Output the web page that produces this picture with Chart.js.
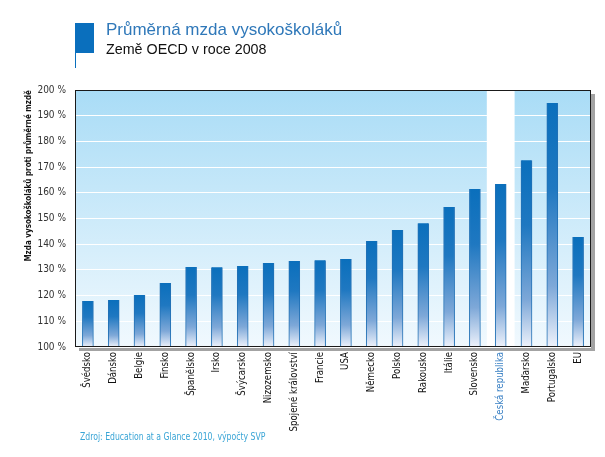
<!DOCTYPE html>
<html>
<head>
<meta charset="utf-8">
<script src="https://cdn.jsdelivr.net/npm/chart.js@4"></script>
<style>
  body { margin: 0; background: #fff; }
  #wrap { position: relative; width: 605px; height: 457px; }
  #graf { position: absolute; left: 0; top: 0; }
  .nadpis { position: absolute; left: 106px; top: 20px; font: 17px "Liberation Sans", Arial, sans-serif; color: #2f78b9; white-space: nowrap; }
  .podnadpis { position: absolute; left: 106px; top: 41px; font: 14.3px "Liberation Sans", Arial, sans-serif; color: #111; white-space: nowrap; }
  .znacka { position: absolute; left: 75px; top: 23px; width: 19px; height: 30px; background: #0a6fbd; }
  .linka { position: absolute; left: 75px; top: 53px; width: 1px; height: 15px; background: #0a6fbd; }
  .zdroj { position: absolute; left: 80px; top: 431px; font: 10px "Liberation Sans Narrow", "DejaVu Sans Condensed", sans-serif; color: #3aa5d6; white-space: nowrap; transform: scaleX(0.86); transform-origin: left top; }
</style>
</head>
<body>
<div id="wrap">
  <canvas id="graf" width="605" height="457"></canvas>
  <div class="znacka"></div>
  <div class="linka"></div>
  <div class="nadpis">Průměrná mzda vysokoškoláků</div>
  <div class="podnadpis">Země OECD v roce 2008</div>
  <div class="zdroj">Zdroj: Education at a Glance 2010, výpočty SVP</div>
</div>
<script>
const zeme = [
    "Švédsko", "Dánsko", "Belgie", "Finsko", "Španělsko", "Irsko", "Švýcarsko",
    "Nizozemsko", "Spojené království", "Francie", "USA", "Německo", "Polsko",
    "Rakousko", "Itálie", "Slovensko", "Česká republika", "Maďarsko", "Portugalsko", "EU"
];
const mzda = [
    117.9, 118.3, 120.2, 124.9, 131.1, 131.0, 131.5,
    132.7, 133.5, 133.8, 134.2, 141.2, 145.5,
    148.2, 154.5, 161.5, 163.4, 172.7, 194.9, 142.8
];
const zvyraznena = "Česká republika";
const osaMin = 100, osaMax = 200, krok = 10;

const pismo = "'Liberation Sans Narrow', 'DejaVu Sans Condensed', sans-serif";

// pozadi grafu, stin a bily sloupec pro CR
const pozadiPlugin = {
    id: 'pozadi',
    beforeDraw(chart) {
        const { ctx, chartArea: a, scales } = chart;
        ctx.save();
        ctx.fillStyle = '#a3a3a3';
        ctx.fillRect(a.left + 4, a.top + 4, a.right - a.left, a.bottom - a.top);
        const g = ctx.createLinearGradient(0, a.top, 0, a.bottom);
        g.addColorStop(0, '#a9dcf6');
        g.addColorStop(1, '#f1f9fe');
        ctx.fillStyle = g;
        ctx.fillRect(a.left, a.top, a.right - a.left, a.bottom - a.top);
        const idx = zeme.indexOf(zvyraznena);
        const sirka = (a.right - a.left) / zeme.length;
        const x = scales.x.getPixelForValue(idx);
        ctx.fillStyle = '#ffffff';
        ctx.fillRect(x - sirka / 2 - 1, a.top, sirka + 2, a.bottom - a.top);
        ctx.restore();
    },
    afterDraw(chart) {
        const { ctx, chartArea: a } = chart;
        ctx.save();
        ctx.strokeStyle = '#1a1a1a';
        ctx.lineWidth = 1;
        ctx.strokeRect(a.left + 0.5, a.top + 0.5, a.right - a.left - 1, a.bottom - a.top - 1);
        ctx.restore();
    }
};

function barvaSloupce(c) {
    const chart = c.chart;
    const a = chart.chartArea;
    if (!a) return '#0a6fbd';
    const top = chart.scales.y.getPixelForValue(mzda[c.dataIndex]);
    const g = chart.ctx.createLinearGradient(0, top, 0, a.bottom);
    g.addColorStop(0, '#0a6fbc');
    g.addColorStop(0.35, '#1f78c1');
    g.addColorStop(0.75, '#7ea8d8');
    g.addColorStop(1, '#eef2fb');
    return g;
}

const ctx = document.getElementById("graf").getContext("2d");
new Chart(ctx, {
    type: 'bar',
    data: {
        labels: zeme,
        datasets: [{
            data: mzda,
            backgroundColor: barvaSloupce,
            borderColor: '#2170b5',
            borderWidth: { left: 1, right: 1, top: 0, bottom: 0 },
            barThickness: 11
        }]
    },
    options: {
        responsive: false,
        animation: false,
        layout: { padding: { top: 90, right: 14, bottom: 0, left: 0 } },
        plugins: {
            legend: { display: false },
            tooltip: { enabled: false }
        },
        scales: {
            x: {
                grid: { display: false, drawTicks: false },
                border: { display: false },
                ticks: {
                    minRotation: 90,
                    maxRotation: 90,
                    autoSkip: false,
                    padding: 5,
                    font: { family: pismo, size: 9.6 },
                    color: c => zeme[c.index] === zvyraznena ? '#3a80c4' : '#111'
                },
                afterFit: s => { s.height = 110; }
            },
            y: {
                min: osaMin,
                max: osaMax,
                grid: { color: '#ffffff', lineWidth: 1, drawTicks: false },
                border: { display: false },
                ticks: {
                    stepSize: krok,
                    padding: 9,
                    font: { family: pismo, size: 10 },
                    color: '#333',
                    callback: v => v + ' %'
                },
                title: {
                    display: true,
                    text: 'Mzda vysokoškoláků proti průměrné mzdě',
                    align: 'end',
                    font: { family: pismo, size: 8, weight: 'bold' },
                    color: '#111',
                    padding: { top: 24, bottom: 0 }
                },
                afterFit: s => { s.width = 75; }
            }
        }
    },
    plugins: [pozadiPlugin]
});
</script>
</body>
</html>
